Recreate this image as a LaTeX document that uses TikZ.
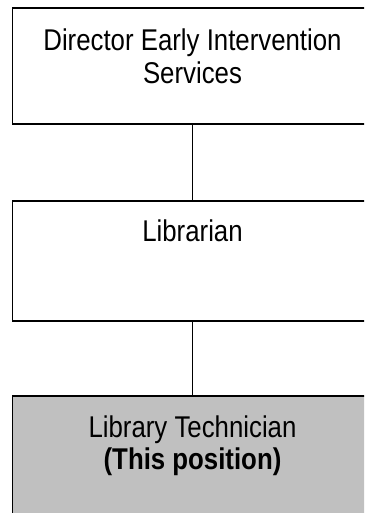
\documentclass[tikz,border=0pt]{standalone}
\usepackage{fontspec}
\newfontfamily\boxfont[FakeStretch=0.86]{Liberation Sans}
\begin{document}
\begin{tikzpicture}[x=1pt,y=1pt,
  box/.style={draw=black,line width=1.6pt,minimum width=360pt,inner sep=0pt,fill=white},
  lbl/.style={anchor=base,inner sep=0pt,font=\boxfont\fontsize{30}{33}\selectfont,align=center},
  link/.style={draw=black,line width=1pt}]
\useasboundingbox (0,0) rectangle (364,513);
\clip (0,0) rectangle (364,513);
\fill[white] (0,0) rectangle (364,513);
% boxes (y measured upward from bottom)
\node[box,minimum height=116pt] (top) at (192.5,447) {};
\node[box,minimum height=120pt] (mid) at (192.5,252) {};
\node[box,minimum height=126pt,fill={rgb,255:red,192;green,192;blue,192}] (bot) at (192.5,54) {};
% connectors
\draw[link] (top.south) -- (mid.north);
\draw[link] (mid.south) -- (bot.north);
% labels
\node[lbl] (t1) at (192.5,462) {Director Early Intervention};
\node[lbl] (t2) at (192.5,429) {Services};
\node[lbl] (m1) at (192.5,271) {Librarian};
\node[lbl] (b1) at (192.5,75.5) {Library Technician};
\node[lbl] (b2) at (192.5,43) {\bfseries (This position)};
\end{tikzpicture}
\end{document}
